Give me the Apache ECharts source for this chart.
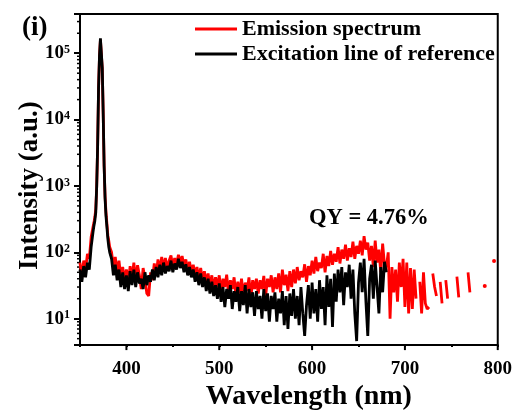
<!DOCTYPE html>
<html lang="en">
<head>
  <meta charset="UTF-8">
  <title>QY spectrum</title>
  <style>
    html, body { margin: 0; padding: 0; background: #fff; }
    #chart { width: 515px; height: 416px; }
  </style>
</head>
<body>
  <div id="chart"></div>
  <script src="https://cdn.jsdelivr.net/npm/echarts@6/dist/echarts.min.js"></script>
  <script>
    // wavelength grid (nm), finer around the excitation line
    const wavelength = [
      350, 352, 354, 356, 358, 360, 362,
      364, 365, 366, 367, 368, 369, 370, 371, 372, 373, 374, 375, 376, 377, 378, 379, 380, 381, 382,
      384, 386, 388, 390, 392, 394, 396, 398,
      400, 402, 404, 406, 408, 410, 412, 414, 416, 418,
      420, 422, 424, 426, 428, 430, 432, 434, 436, 438,
      440, 442, 444, 446, 448, 450, 452, 454, 456, 458,
      460, 462, 464, 466, 468, 470, 472, 474, 476, 478,
      480, 482, 484, 486, 488, 490, 492, 494, 496, 498,
      500, 502, 504, 506, 508, 510, 512, 514, 516, 518,
      520, 522, 524, 526, 528, 530, 532, 534, 536, 538,
      540, 542, 544, 546, 548, 550, 552, 554, 556, 558,
      560, 562, 564, 566, 568, 570, 572, 574, 576, 578,
      580, 582, 584, 586, 588, 590, 592, 594, 596, 598,
      600, 602, 604, 606, 608, 610, 612, 614, 616, 618,
      620, 622, 624, 626, 628, 630, 632, 634, 636, 638,
      640, 642, 644, 646, 648, 650, 652, 654, 656, 658,
      660, 662, 664, 666, 668, 670, 672, 674, 676, 678,
      680, 682, 684, 686, 688, 690, 692, 694, 696, 698,
      700, 702, 704, 706, 708, 710, 712, 714, 716, 718,
      720, 722, 724, 726, 728, 730, 732, 734, 736, 738,
      740, 742, 744, 746, 748, 750, 752, 754, 756, 758,
      760, 762, 764, 766, 768, 770, 772, 774, 776, 778,
      780, 782, 784, 786, 788, 790, 792, 794, 796, 798,
      800
    ];

    const emission = [
      70, 42, 75, 55, 95, 80, 170,
      240, 280, 340, 450, 1000, 4000, 30000, 90000, 160000, 155000, 58000, 12000, 2000, 700, 400, 270, 180, 150, 120,
      100, 62, 85, 50, 75, 42, 60, 38,
      55, 35, 62, 40, 70, 38, 64, 45, 28, 58,
      40, 24, 22, 50, 38, 68, 45, 78, 52, 85,
      58, 82, 55, 75, 90, 60, 82, 65, 92, 70,
      88, 62, 78, 55, 72, 50, 65, 45, 60, 40,
      58, 38, 52, 35, 48, 30, 45, 28, 42, 30,
      45, 25, 40, 30, 46, 24, 38, 28, 42, 22,
      36, 24, 40, 22, 35, 26, 42, 20, 38, 28,
      40, 24, 38, 28, 44, 22, 40, 30, 45, 25,
      42, 28, 48, 25, 55, 32, 46, 26, 52, 30,
      55, 34, 60, 38, 52, 42, 66, 36, 62, 45,
      75, 48, 85, 52, 70, 58, 95, 50, 88, 62,
      105, 65, 95, 72, 120, 68, 110, 80, 130, 75,
      115, 85, 145, 80, 125, 95, 150, 90, 175, 110,
      140, 75, 125, 60, 150, 70, 110, 50, 135, 65,
      60, 100, 10, 60, 25, 55, 18, 70, 30, 80,
      15, 70, 12, 58, 14, 55, 20, null, 36, 12,
      50, 17, 14, 15, null, 48, 30, 22, null, 36,
      17, null, 38, 20, null, null, null, null, 43, 21,
      null, null, null, null, 50, 25, null, null, null, null,
      null, null, null, 31, null, null, null, null, 74, null,
      null
    ];

    // excitation line of the reference, measured up to 680 nm
    const excitation = [
      55, 36, 62, 42, 70, 55, 120,
      200, 250, 300, 400, 1000, 4000, 30000, 92000, 168000, 160000, 60000, 12000, 2000, 650, 350, 240, 160, 120, 100,
      80, 45, 65, 38, 55, 30, 50, 28,
      45, 26, 52, 32, 55, 30, 50, 34, 40, 28,
      50, 32, 45, 36, 55, 38, 60, 42, 65, 45,
      70, 48, 62, 52, 75, 50, 68, 55, 80, 58,
      72, 50, 66, 45, 60, 42, 55, 36, 50, 32,
      48, 30, 42, 26, 40, 24, 36, 22, 32, 20,
      34, 18, 30, 15, 28, 20, 32, 14, 26, 18,
      30, 13, 26, 16, 32, 12, 28, 15, 25, 11,
      26, 14, 22, 10, 28, 13, 24, 9, 22, 14,
      25, 9, 20, 12, 26, 8, 22, 7, 24, 11,
      28, 10, 22, 8, 30, 12, 5.5, 16, 32, 10,
      35, 12, 28, 9, 38, 14, 30, 8, 45, 15,
      40, 7.5, 48, 18, 55, 25, 60, 16, 50, 30,
      65, 20, 55, 12, 4.6, 35, 70, 25, 80, 18,
      5.5, 40, 65, 20, 75, 30, 12, 60, 25, 72,
      50
    ];

    const xMajorTicks = [400, 500, 600, 700, 800];
    const yMinorTicks = [
      5, 6, 7, 8, 9,
      20, 30, 40, 50, 60, 70, 80, 90,
      200, 300, 400, 500, 600, 700, 800, 900,
      2000, 3000, 4000, 5000, 6000, 7000, 8000, 9000,
      20000, 30000, 40000, 50000, 60000, 70000, 80000, 90000,
      200000, 300000
    ];

    const serif = 'Liberation Serif';

    function toSeries(values) {
      return values.map((v, i) => {
        const lone = v != null && values[i - 1] == null && values[i + 1] == null && i > 0;
        if (lone) return { value: [wavelength[i], v], symbol: 'circle', symbolSize: 4 };
        return [wavelength[i], v];
      });
    }

    const chart = echarts.init(document.getElementById('chart'));

    chart.setOption({
      animation: false,
      backgroundColor: '#fff',
      title: {
        text: '(i)',
        left: 17,
        top: 10,
        textStyle: { fontFamily: serif, fontWeight: 'bold', fontSize: 27, color: '#000' }
      },
      legend: {
        data: ['Emission spectrum', 'Excitation line of reference'],
        orient: 'vertical',
        left: 190,
        top: 13,
        icon: 'rect',
        itemWidth: 42,
        itemHeight: 3,
        itemGap: 3,
        textStyle: { fontFamily: serif, fontWeight: 'bold', fontSize: 22, color: '#000', lineHeight: 22 }
      },
      grid: {
        left: 80, right: 15, top: 14, bottom: 64,
        show: true, borderColor: '#000', borderWidth: 2
      },
      xAxis: {
        type: 'value',
        min: 350,
        max: 800,
        interval: 50,
        name: 'Wavelength (nm)',
        nameLocation: 'middle',
        nameGap: 30,
        nameTextStyle: { fontFamily: serif, fontWeight: 'bold', fontSize: 28, color: '#000', padding: [0, 0, 0, 40] },
        axisLine: { lineStyle: { color: '#000', width: 2 } },
        axisTick: { length: 2, lineStyle: { color: '#000', width: 2 } },
        splitLine: { show: false },
        axisLabel: {
          margin: 14,
          color: '#000',
          fontFamily: serif,
          fontWeight: 'bold',
          fontSize: 19,
          formatter: v => (v % 100 === 0 ? String(v) : '')
        }
      },
      yAxis: {
        type: 'log',
        min: 4,
        max: 390000,
        name: 'Intensity (a.u.)',
        nameLocation: 'middle',
        nameGap: 36,
        nameMoveOverlap: false,
        nameTextStyle: { fontFamily: serif, fontWeight: 'bold', fontSize: 27, color: '#000', padding: [0, 12, 0, 0] },
        axisLine: { lineStyle: { color: '#000', width: 2 } },
        axisTick: { length: 6, lineStyle: { color: '#000', width: 2 } },
        splitLine: { show: false },
        axisLabel: {
          margin: 10,
          color: '#000',
          formatter: v => {
            const e = Math.round(Math.log10(v));
            if (Math.abs(Math.log10(v) - e) > 1e-6) return '';
            return '{b|10}{s|' + e + '}';
          },
          rich: {
            b: { fontFamily: serif, fontWeight: 'bold', fontSize: 19, color: '#000' },
            s: { fontFamily: serif, fontWeight: 'bold', fontSize: 12, color: '#000', verticalAlign: 'top' }
          }
        }
      },
      graphic: [{
        type: 'text',
        left: 309,
        top: 207,
        style: { text: 'QY = 4.76%', font: 'bold 22.5px "Liberation Serif"', fill: '#000' }
      }],
      series: [
        {
          name: 'Emission spectrum',
          type: 'line',
          data: toSeries(emission),
          showSymbol: true,
          symbol: 'circle',
          symbolSize: 0,
          connectNulls: false,
          color: '#ff0000',
          lineStyle: { color: '#ff0000', width: 2.8 },
          itemStyle: { color: '#ff0000' }
        },
        {
          name: 'Excitation line of reference',
          type: 'line',
          data: toSeries(excitation),
          showSymbol: false,
          color: '#000',
          lineStyle: { color: '#000', width: 2.8 },
          itemStyle: { color: '#000' }
        },
        {
          type: 'custom',
          silent: true,
          clip: false,
          data: yMinorTicks.map(v => [350, v]),
          renderItem: (params, api) => {
            const p = api.coord([api.value(0), api.value(1)]);
            return {
              type: 'line',
              shape: { x1: p[0] - 3, y1: p[1], x2: p[0], y2: p[1] },
              style: { stroke: '#000', lineWidth: 1.5 }
            };
          }
        },
        {
          type: 'custom',
          silent: true,
          clip: false,
          data: xMajorTicks.map(v => [v, 4]),
          renderItem: (params, api) => {
            const p = api.coord([api.value(0), api.value(1)]);
            return {
              type: 'line',
              shape: { x1: p[0], y1: p[1], x2: p[0], y2: p[1] + 5 },
              style: { stroke: '#000', lineWidth: 2 }
            };
          }
        }
      ]
    });
  </script>
</body>
</html>
